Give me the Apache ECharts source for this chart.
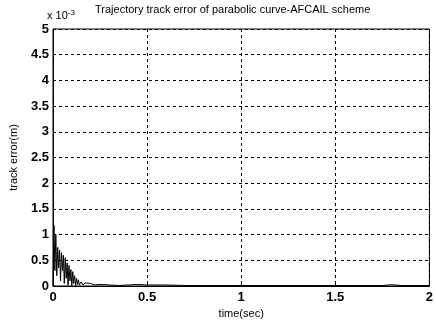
<!DOCTYPE html>
<html>
<head>
<meta charset="utf-8">
<script src="https://cdn.jsdelivr.net/npm/echarts@6/dist/echarts.min.js"></script>
<style>
  html, body { margin: 0; padding: 0; background: #fff; }
  #chart { width: 436px; height: 325px; }
</style>
</head>
<body>
<div id="chart"></div>
<script>
// time in seconds, error in units of 1e-3 m
const timeSec = [
  0, 0.005, 0.01, 0.015, 0.02, 0.025, 0.03, 0.035, 0.04, 0.045,
  0.05, 0.055, 0.06, 0.065, 0.07, 0.075, 0.08, 0.085, 0.09, 0.095,
  0.1, 0.105, 0.11, 0.115, 0.12, 0.125, 0.13, 0.135, 0.14, 0.15,
  0.16, 0.17, 0.18, 0.2, 0.22, 0.25, 0.3, 0.35, 0.4, 0.45,
  0.5, 0.6, 0.7, 0.8, 0.9, 1.0, 1.2, 1.4, 1.6, 1.75, 1.8, 1.85, 2.0
];
const errMilli = [
  0, 1.18, 0.3, 1.0, 0.2, 0.75, 0.35, 0.7, 0.1, 0.65,
  0.3, 0.6, 0.05, 0.55, 0.15, 0.45, 0.02, 0.4, 0.1, 0.32,
  0.01, 0.28, 0.05, 0.2, 0.01, 0.15, 0.03, 0.12, 0.02, 0.08,
  0.02, 0.06, 0.03, 0.05, 0.02, 0.03, 0.02, 0.01, 0.02, 0.03,
  0.02, 0.02, 0.01, 0.01, 0.01, 0.01, 0.01, 0.01, 0.01, 0.01, 0.025, 0.01, 0.01
];
const xTicks = [0, 0.5, 1, 1.5, 2];

const chart = echarts.init(document.getElementById('chart'));
const font = 'Liberation Sans Narrow, Arial Narrow, Liberation Sans, sans-serif';
const dashed = { color: '#000', width: 1, type: [3, 3] };

chart.setOption({
  animation: false,
  backgroundColor: '#fff',
  grid: {
    left: 49, right: 3, top: 29, bottom: 39,
    show: true, borderColor: '#000', borderWidth: 1
  },
  title: [{
    text: 'Trajectory track error of parabolic curve-AFCAIL scheme',
    left: 95, top: 4, padding: 0,
    textStyle: { fontFamily: font, fontSize: 11, fontWeight: 'normal', color: '#000' }
  }, {
    text: 'x 10{sup|-3}',
    left: 47, top: 9, padding: 0,
    textStyle: {
      fontFamily: font, fontSize: 11, fontWeight: 'normal', color: '#000',
      rich: { sup: { fontFamily: font, fontSize: 8, verticalAlign: 'top', padding: [0, 0, 6, 0] } }
    }
  }],
  xAxis: {
    type: 'value', min: 0, max: 2, interval: 0.5,
    name: 'time(sec)', nameLocation: 'middle', nameGap: 22,
    nameTextStyle: { fontFamily: font, fontSize: 11, color: '#000' },
    axisLine: { show: true, lineStyle: { color: '#000' } },
    axisTick: { show: true, inside: true, length: 3, lineStyle: { color: '#000' } },
    axisLabel: {
      fontFamily: font, fontSize: 13, fontWeight: 'bold', color: '#000', margin: 5,
      formatter: v => xTicks.includes(v) ? String(v) : ''
    },
    splitLine: { show: true, lineStyle: dashed }
  },
  yAxis: {
    type: 'value', min: 0, max: 5, interval: 0.5,
    name: 'track error(m)', nameLocation: 'middle', nameGap: 34,
    nameTextStyle: { fontFamily: font, fontSize: 11, color: '#000' },
    axisLine: { show: true, lineStyle: { color: '#000' } },
    axisTick: { show: true, inside: true, length: 3, lineStyle: { color: '#000' } },
    axisLabel: { fontFamily: font, fontSize: 13, fontWeight: 'bold', color: '#000', margin: 4 },
    splitLine: { show: true, lineStyle: dashed }
  },
  series: [{
    type: 'line',
    data: timeSec.map((t, i) => [t, errMilli[i]]),
    symbol: 'none',
    lineStyle: { color: '#000', width: 1 },
    z: 5
  }]
});
</script>
</body>
</html>
